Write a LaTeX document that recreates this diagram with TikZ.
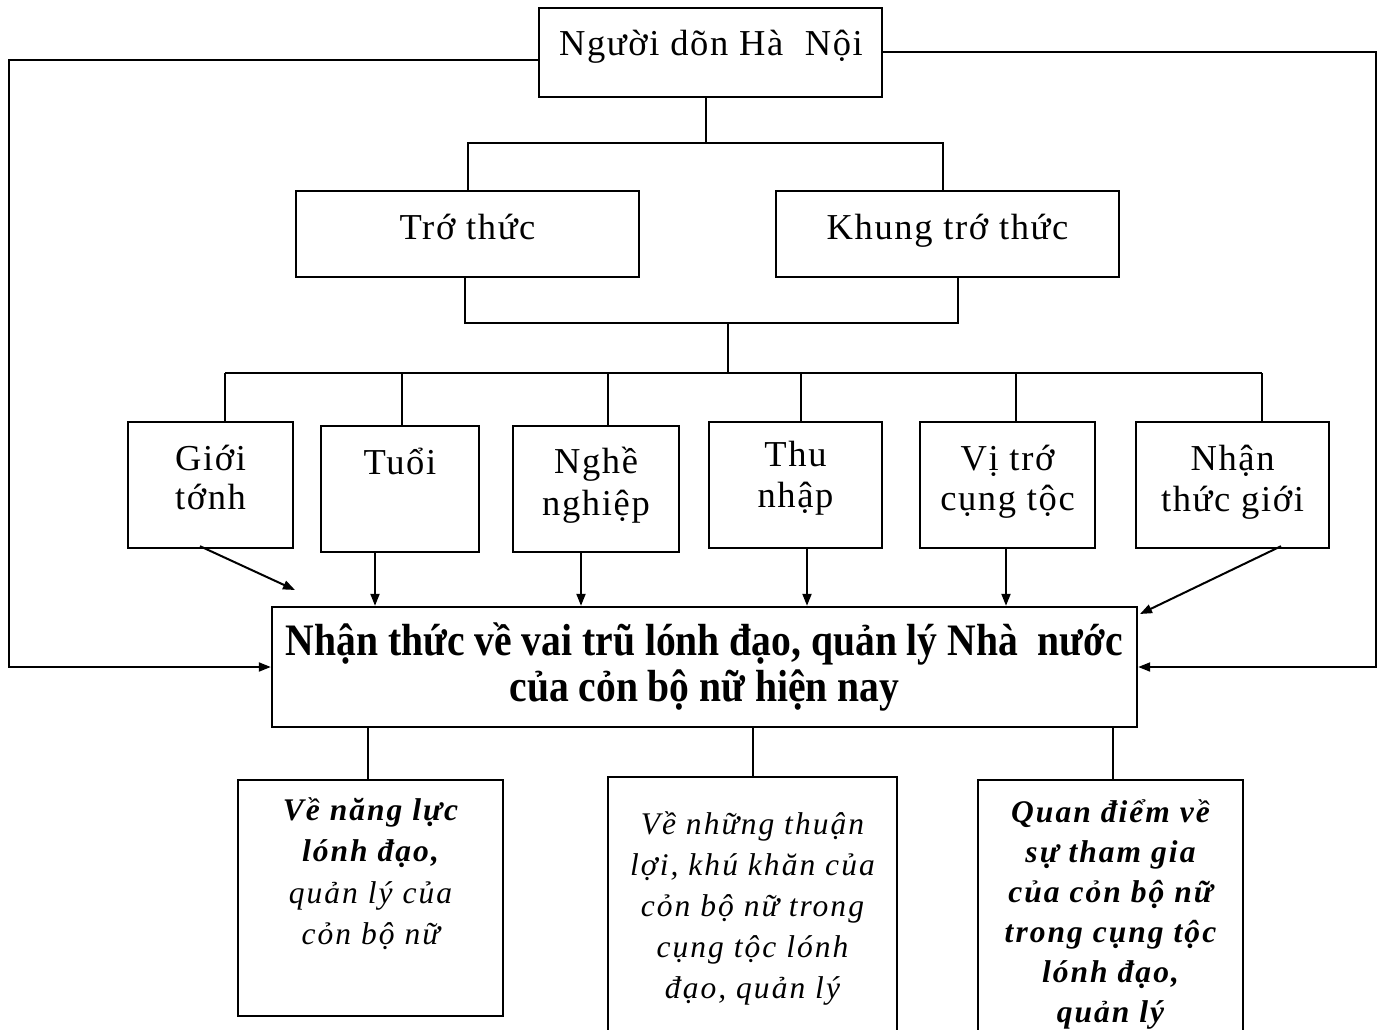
\documentclass[tikz,border=0pt]{standalone}
\usepackage{fontspec}
\setmainfont{Liberation Serif}[LetterSpace=4.5]
\newfontfamily\ctrfont{Liberation Serif}[FakeStretch=0.88]
\newfontfamily\btmfont{Liberation Serif}[LetterSpace=6.5]
\usetikzlibrary{arrows.meta}
\newcommand\ml[2]{\vtop{\baselineskip=#1\relax\lineskiplimit=-\maxdimen\lineskip=0pt\halign{\hfil##\hfil\cr#2\crcr}}}
\tikzset{
  box/.style={draw, line width=2.4pt, inner sep=0pt},
  con/.style={line width=2pt},
  arr/.style={con, -{Triangle[length=12pt,width=9pt]}},
  txt/.style={anchor=base, inner sep=0pt, font=\fontsize{36.5}{40}\selectfont},
  ctxt/.style={anchor=base, inner sep=0pt, font=\ctrfont\bfseries\fontsize{45}{45}\selectfont},
  btxt/.style={anchor=base, inner sep=0pt, font=\btmfont\itshape\fontsize{31.5}{41}\selectfont},
}
\begin{document}
\begin{tikzpicture}[x=1pt,y=-1pt]
\useasboundingbox (0,0) rectangle (1387,1030);
\clip (0,0) rectangle (1387,1030);
\fill[white] (0,0) rectangle (1387,1030);

% boxes
\node[box, minimum width=343pt, minimum height=89pt] (top) at (710.5,52.5) {};
\node[box, minimum width=343pt, minimum height=86pt] (tri) at (467.5,234) {};
\node[box, minimum width=343pt, minimum height=86pt] (khung) at (947.5,234) {};
\node[box, minimum width=165pt, minimum height=126pt] (g) at (210.5,485) {};
\node[box, minimum width=158pt, minimum height=126pt] (t) at (400,489) {};
\node[box, minimum width=166pt, minimum height=126pt] (n) at (596,489) {};
\node[box, minimum width=173pt, minimum height=126pt] (thu) at (795.5,485) {};
\node[box, minimum width=175pt, minimum height=126pt] (v) at (1007.5,485) {};
\node[box, minimum width=193pt, minimum height=126pt] (nh) at (1232.5,485) {};
\node[box, minimum width=865pt, minimum height=120pt] (c) at (704.5,667) {};
\node[box, minimum width=265pt, minimum height=236pt] (b1) at (370.5,898) {};
\node[box, minimum width=289pt, minimum height=270pt] (b2) at (752.5,912) {};
\node[box, minimum width=265pt, minimum height=266pt] (b3) at (1110.5,913) {};

% texts
\node[txt] (tTop) at (711,56) {Người dõn Hà~ Nội};
\node[txt] (tTri) at (467.5,239) {Trớ thức};
\node[txt] (tKhung) at (947.5,239) {Khung trớ thức};
\node[txt] (tG) at (210.5,470) {\ml{39pt}{Giới\cr tớnh}};
\node[txt] (tT) at (400,474) {Tuổi};
\node[txt] (tN) at (596,473) {\ml{42pt}{Nghề\cr nghiệp}};
\node[txt] (tThu) at (795.5,466) {\ml{41pt}{Thu\cr nhập}};
\node[txt] (tV) at (1007.5,470) {\ml{40pt}{Vị trớ\cr cụng tộc}};
\node[txt] (tNh) at (1232.5,470) {\ml{41pt}{Nhận\cr thức giới}};
\node[ctxt] (tC) at (704.5,655) {\ml{46pt}{Nhận thức về vai trũ lónh đạo, quản lý Nhà~ nước\cr của cỏn bộ nữ hiện nay}};
\node[btxt] (tB1) at (370.5,820) {\ml{41.5pt}{\bfseries Về năng lực\cr \bfseries lónh đạo,\cr quản lý của\cr cỏn bộ nữ}};
\node[btxt] (tB2) at (752.5,834) {\ml{41pt}{Về những thuận\cr lợi, khú khăn của\cr cỏn bộ nữ trong\cr cụng tộc lónh\cr đạo, quản lý}};
\node[btxt, font=\btmfont\itshape\bfseries\fontsize{31.5}{40}\selectfont] (tB3) at (1110.5,822) {\ml{40pt}{Quan điểm về\cr sự tham gia\cr của cỏn bộ nữ\cr trong cụng tộc\cr lónh đạo,\cr quản lý}};

% tree connectors
\coordinate (J1) at (706,143);
\draw[con] (J1 |- top.south) -- (J1);
\draw[con] (tri.north) |- (J1) -| ([xshift=-4.5pt]khung.north);
\coordinate (J2) at (728,323);
\draw[con] ([xshift=-2.5pt]tri.south) |- (J2) -| ([xshift=10.5pt]khung.south);
\coordinate (J3) at (728,373);
\draw[con] (J2) -- (J3);
\coordinate (d1) at (225,373);
\coordinate (d2) at (402,373);
\coordinate (d3) at (608,373);
\coordinate (d4) at (801,373);
\coordinate (d5) at (1016,373);
\coordinate (d6) at (1262,373);
\draw[con] (d1) -- (d6);
\draw[con] (d1) -- (d1 |- g.north);
\draw[con] (d2) -- (d2 |- t.north);
\draw[con] (d3) -- (d3 |- n.north);
\draw[con] (d4) -- (d4 |- thu.north);
\draw[con] (d5) -- (d5 |- v.north);
\draw[con] (d6) -- (d6 |- nh.north);

% arrows into centre box
\coordinate (ga) at (295,590);
\draw[arr] ([xshift=-10.5pt,yshift=3pt]g.south) -- (ga);
\coordinate (a2) at (375,0);
\coordinate (a3) at (581,0);
\coordinate (a4) at (807,0);
\coordinate (a5) at (1006,0);
\draw[arr] (a2 |- t.south) -- (a2 |- c.north);
\draw[arr] (a3 |- n.south) -- (a3 |- c.north);
\draw[arr] (a4 |- thu.south) -- (a4 |- c.north);
\draw[arr] (a5 |- v.south) -- (a5 |- c.north);
\coordinate (na) at (1140,614);
\draw[arr] ([xshift=48.5pt,yshift=3pt]nh.south) -- (na);

% side feedback lines
\coordinate (Lc) at (9,0);
\coordinate (Rc) at (1376,0);
\draw[arr] ([yshift=-7.5pt]top.west) -| (Lc |- c.west) -- (c.west);
\draw[arr] (top.east) -| (Rc |- c.east) -- (c.east);

% lower connectors
\coordinate (e1) at (368,0);
\coordinate (e2) at (753,0);
\coordinate (e3) at (1113,0);
\draw[con] (e1 |- c.south) -- (e1 |- b1.north);
\draw[con] (e2 |- c.south) -- (e2 |- b2.north);
\draw[con] (e3 |- c.south) -- (e3 |- b3.north);
\end{tikzpicture}
\end{document}
